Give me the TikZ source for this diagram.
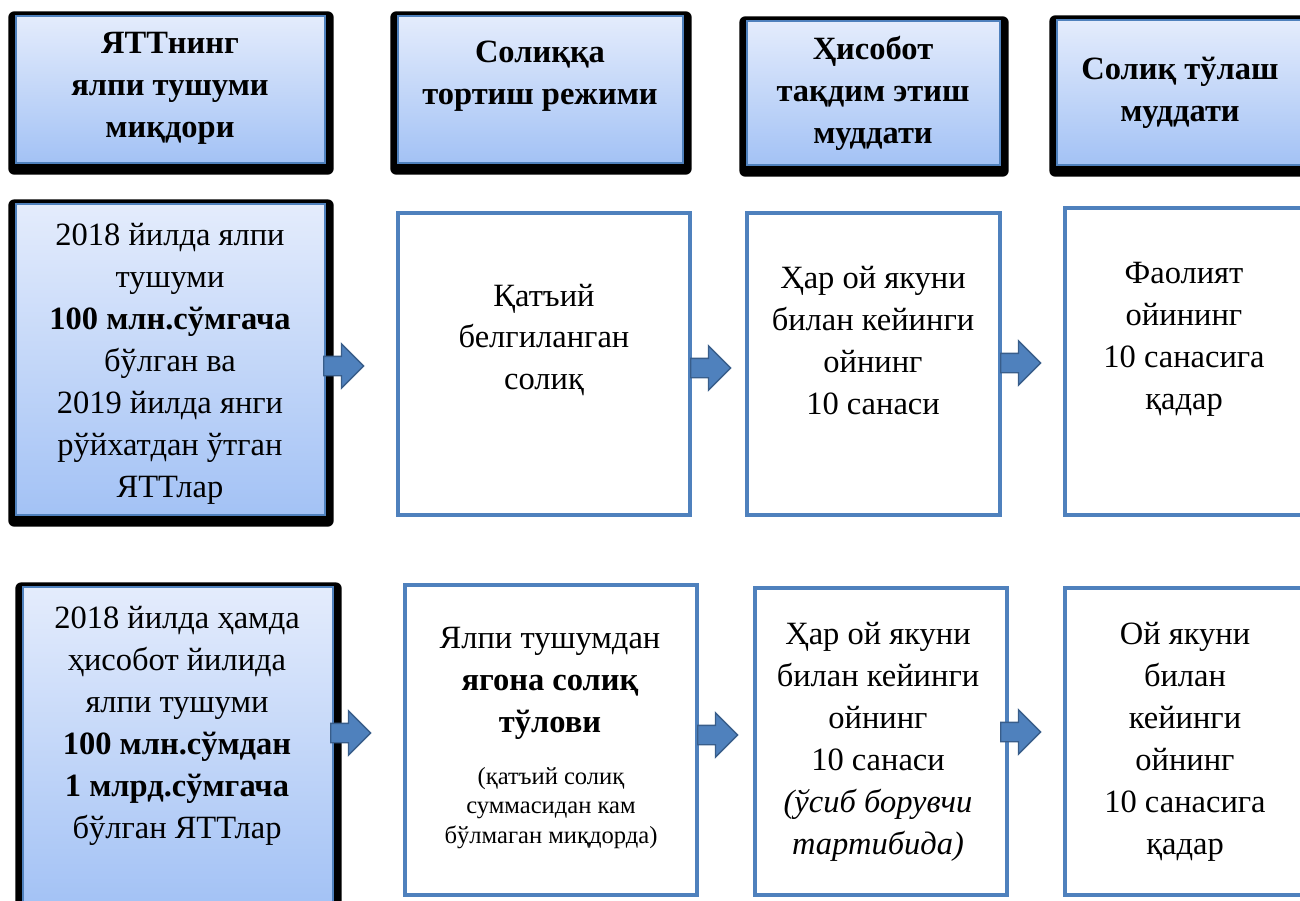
\documentclass[tikz,border=0pt]{standalone}
\usepackage{fontspec}
\setmainfont{Liberation Serif}
\usepackage{xcolor}
\usetikzlibrary{shapes.arrows}
\usetikzlibrary{backgrounds}

\definecolor{boxblue}{RGB}{79,129,189}
\definecolor{arrowline}{RGB}{56,93,138}
\definecolor{gradtop}{RGB}{228,236,252}
\definecolor{gradbot}{RGB}{163,194,245}

\begin{document}
\begin{tikzpicture}
        [x=0.02cm,y=-0.02cm,
        headbox/.style={rectangle,draw=boxblue,line width=0.8pt,top color=gradtop,bottom color=gradbot,inner sep=0pt},
        cellbox/.style={rectangle,draw=boxblue,line width=2.2pt,fill=white,inner sep=0pt},
        headtext/.style={align=center,inner sep=0pt,font=\fontsize{18.5}{23.9}\selectfont\bfseries},
        celltext/.style={align=center,inner sep=0pt,font=\fontsize{18.5}{23.9}\selectfont},
        notetext/.style={align=center,inner sep=0pt,font=\fontsize{14}{17}\selectfont},
        blockarrow/.style={single arrow,single arrow head extend=0.25cm,text height=0.18cm,text depth=0.18cm,minimum width=0.86cm,minimum height=0.8cm,inner sep=0pt,fill=boxblue,draw=arrowline,line width=0.8pt}]

\useasboundingbox (0,0) rectangle (1300,900);

\begin{scope}

% headers
\node[headbox,minimum width=6.18cm,minimum height=2.94cm] at (170.5,89.5) (h1) {};
\node[headtext] at (170,88) (h1t) {ЯТТнинг\\ялпи тушуми\\миқдори};

\node[headbox,minimum width=5.7cm,minimum height=2.94cm] at (540.5,89.5) (h2) {};
\node[headtext] at (540,76) (h2t) {Солиққа\\тортиш режими};

\node[headbox,minimum width=5.06cm,minimum height=2.88cm] at (873.5,93) (h3) {};
\node[headtext] at (873,93) (h3t) {Ҳисобот\\тақдим этиш\\муддати};

\node[headbox,minimum width=4.92cm,minimum height=2.9cm] at (1180,92.5) (h4) {};
\node[headtext] at (1180,93) (h4t) {Солиқ тўлаш\\муддати};

% first row
\node[headbox,minimum width=6.18cm,minimum height=6.22cm] at (170.5,359.5) (r1c1) {};
\node[celltext] at (170,364) (r1c1t) {2018 йилда ялпи\\тушуми\\\textbf{100 млн.сўмгача}\\бўлган ва\\2019 йилда янги\\рўйхатдан ўтган\\ЯТТлар};

\node[cellbox,minimum width=5.84cm,minimum height=6.04cm] at (544,364) (r1c2) {};
\node[celltext] at (544,340) (r1c2t) {Қатъий\\белгиланган\\солиқ};

\node[cellbox,minimum width=5.06cm,minimum height=6.04cm] at (873.5,364) (r1c3) {};
\node[celltext] at (873,341) (r1c3t) {Ҳар ой якуни\\билан кейинги\\ойнинг\\10 санаси};

\node[cellbox,minimum width=4.8cm,minimum height=6.14cm] at (1185,361.5) (r1c4) {};
\node[celltext] at (1184,339) (r1c4t) {Фаолият\\ойининг\\10 санасига\\қадар};

% second row
\node[headbox,minimum width=6.2cm,minimum height=6.36cm] at (178,746) (r2c1) {};
\node[celltext] at (177,726) (r2c1t) {2018 йилда ҳамда\\ҳисобот йилида\\ялпи тушуми\\\textbf{100 млн.сўмдан}\\\textbf{1 млрд.сўмгача}\\бўлган ЯТТлар};

\node[cellbox,minimum width=5.84cm,minimum height=6.2cm] at (551,740) (r2c2) {};
\node[celltext] at (550,683) (r2c2t) {Ялпи тушумдан\\\textbf{ягона солиқ}\\\textbf{тўлови}};
\node[notetext] at (551,808) (r2c2n) {(қатъий солиқ\\суммасидан кам\\бўлмаган миқдорда)};

\node[cellbox,minimum width=5.04cm,minimum height=6.14cm] at (881,741.5) (r2c3) {};
\node[celltext] at (878,742) (r2c3t) {Ҳар ой якуни\\билан кейинги\\ойнинг\\10 санаси\\\textit{(ўсиб борувчи}\\\textit{тартибида)}};

\node[cellbox,minimum width=4.8cm,minimum height=6.14cm] at (1185,741.5) (r2c4) {};
\node[celltext] at (1185,742) (r2c4t) {Ой якуни\\билан\\кейинги\\ойнинг\\10 санасига\\қадар};

%arrows
\node[blockarrow,anchor=west] at (323,366) (a11) {};
\node[blockarrow,anchor=west] at (690,368) (a12) {};
\node[blockarrow,anchor=west] at (1000,363) (a13) {};
\node[blockarrow,anchor=west] at (330,733) (a21) {};
\node[blockarrow,anchor=west] at (697,735) (a22) {};
\node[blockarrow,anchor=west] at (1000,732) (a23) {};

\end{scope}

% frames
\begin{scope}[on background layer]
\foreach \b in {h1,h2,h3,h4,r1c1,r2c1}
        \fill[black,rounded corners=0.12cm] ([xshift=-0.14cm,yshift=0.08cm]\b.north west) rectangle ([xshift=0.16cm,yshift=-0.22cm]\b.south east);
\end{scope}

\end{tikzpicture}
\end{document}
